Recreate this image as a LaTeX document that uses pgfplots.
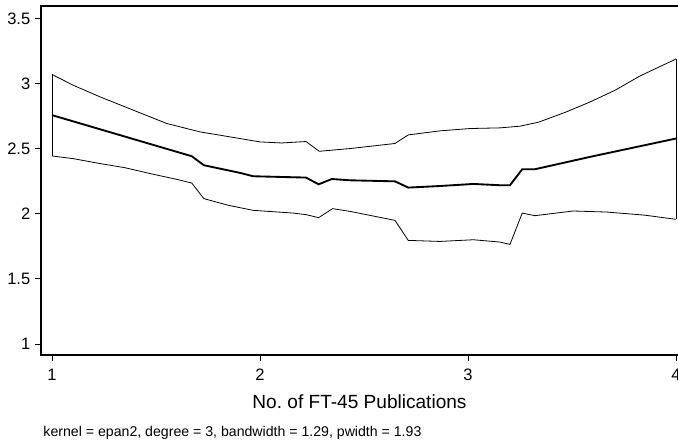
\documentclass[border=0pt]{standalone}
\usepackage{pgfplots}
\pgfplotsset{compat=1.18}
\usepackage{fontspec}
\setmainfont{Liberation Sans}
\begin{document}
\begin{tikzpicture}
\begin{axis}[
  width=477.75pt, height=261.75pt, scale only axis,
  xmin=0.947, xmax=4.01, ymin=0.915, ymax=3.598,
  axis line style={draw=none},
  xtick={1,2,3,4}, ytick={1,1.5,2,2.5,3,3.5},
  xtick pos=lower, ytick pos=left,
  tick align=outside, major tick length=4.5pt,
  tick style={black, line width=0.6pt},
  ticklabel style={font=\fontsize{12.4}{14}\selectfont},
  xticklabel style={yshift=-2.5pt},
  /pgf/number format/assume math mode=true,
  xlabel={No.\ of FT-45 Publications},
  xlabel style={font=\fontsize{14.3}{16}\selectfont, at={(axis description cs:0.5,-0.1338)}, anchor=center},
  clip=false,
  every axis plot/.append style={black, no marks, sharp plot},
]
% upper band
\addplot[line width=0.6pt] coordinates {
(1,3.072) (1.1,2.99) (1.23,2.90) (1.391,2.797) (1.551,2.695) (1.712,2.63)
(1.904,2.579) (2.0,2.553) (2.104,2.545) (2.221,2.556) (2.285,2.481) (2.433,2.502)
(2.649,2.541) (2.713,2.607) (2.865,2.638) (3.01,2.656) (3.154,2.661) (3.25,2.674)
(3.34,2.705) (3.467,2.78) (3.587,2.86) (3.707,2.95) (3.827,3.06) (3.92,3.13) (4,3.19)
};
% lower band
\addplot[line width=0.6pt] coordinates {
(1,2.445) (1.1,2.425) (1.23,2.387) (1.35,2.355) (1.471,2.31) (1.6,2.265) (1.672,2.237)
(1.73,2.117) (1.85,2.065) (1.968,2.027) (2.16,2.006) (2.221,1.994) (2.282,1.971)
(2.349,2.04) (2.433,2.019) (2.649,1.95) (2.713,1.796) (2.865,1.788) (3.026,1.801)
(3.154,1.783) (3.202,1.765) (3.261,2.006) (3.322,1.986) (3.506,2.022) (3.667,2.014)
(3.85,1.99) (4,1.958)
};
% band ends
\addplot[line width=0.6pt] coordinates {(1,2.445) (1,3.072)};
\addplot[line width=0.6pt] coordinates {(4,1.958) (4,3.19)};
% smoothed mean
\addplot[line width=1.4pt] coordinates {
(1,2.759) (1.672,2.443) (1.73,2.374) (1.904,2.315) (1.968,2.289) (2.221,2.279)
(2.282,2.227) (2.345,2.268) (2.433,2.258) (2.649,2.25) (2.713,2.202) (2.865,2.214)
(3.026,2.23) (3.154,2.22) (3.202,2.22) (3.261,2.343) (3.322,2.343) (3.587,2.438)
(3.827,2.52) (4,2.579)
};
\draw[line width=1pt] (rel axis cs:1,1) -- (rel axis cs:0,1) -- (rel axis cs:0,0) -- (rel axis cs:1,0);
\node[anchor=west, inner sep=0pt, font=\fontsize{10.6}{12}\selectfont] at (rel axis cs:0.0035,-0.2235)
  {kernel = epan2, degree = 3, bandwidth = 1.29, pwidth = 1.93};
\coordinate (bl) at (rel axis cs:0,0);
\coordinate (tr) at (rel axis cs:1,1);
\end{axis}
\pgfresetboundingbox
\path ([xshift=-30.75pt,yshift=-64.5pt]bl) rectangle ([yshift=4.5pt]tr);
\end{tikzpicture}
\end{document}
